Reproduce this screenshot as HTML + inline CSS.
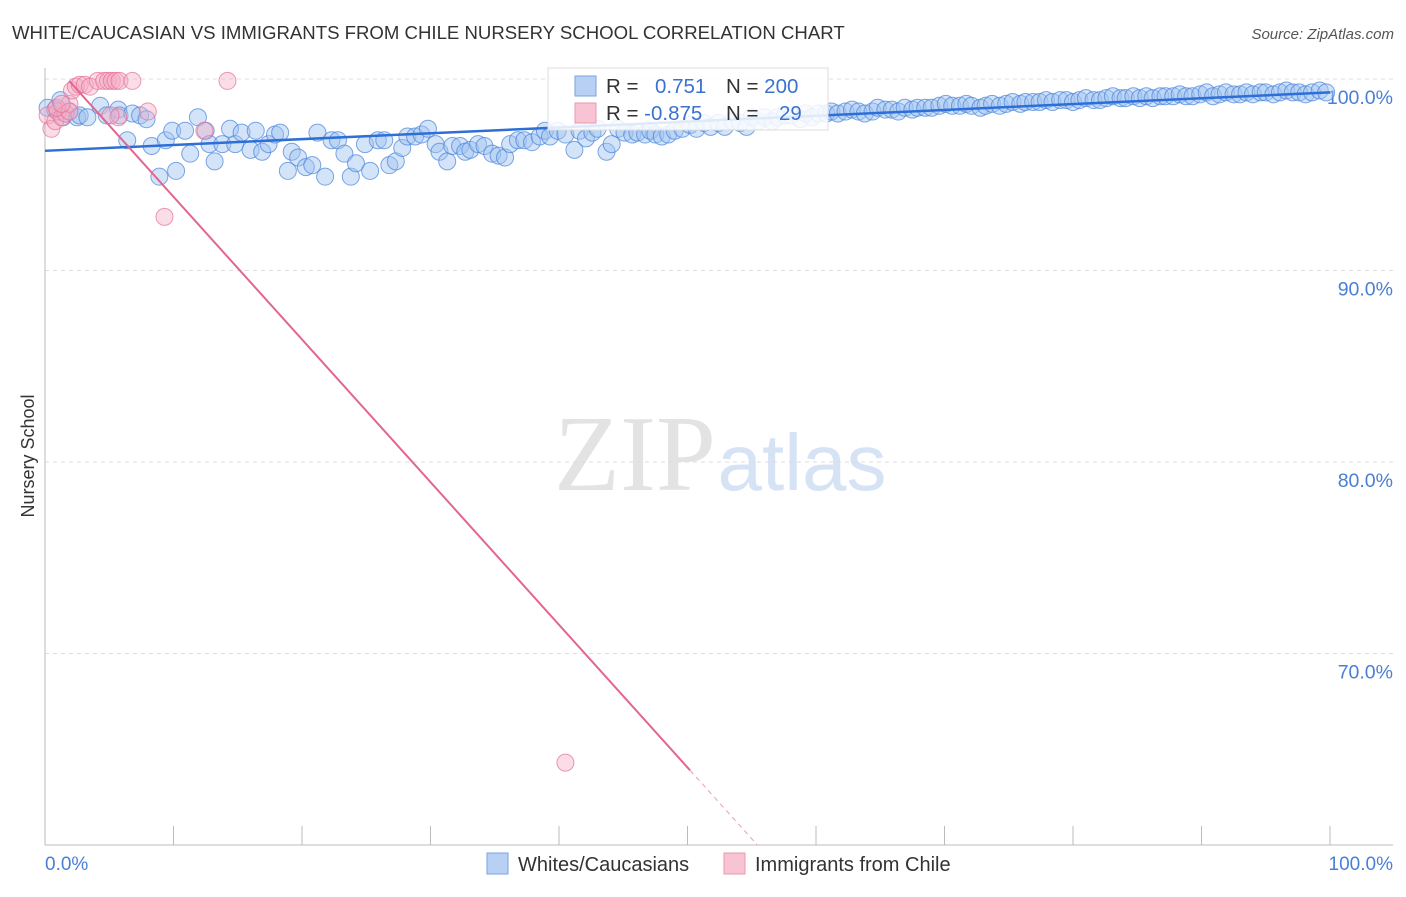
<!DOCTYPE html>
<html><head><meta charset="utf-8"><style>
body{margin:0;background:#fff;font-family:"Liberation Sans",sans-serif;}
svg text{font-family:"Liberation Sans",sans-serif;}
</style></head><body>
<svg id="chart" width="1406" height="892" xmlns="http://www.w3.org/2000/svg">
<text x="12" y="39" font-size="18.6" fill="#333">WHITE/CAUCASIAN VS IMMIGRANTS FROM CHILE NURSERY SCHOOL CORRELATION CHART</text>
<text x="1394" y="39" font-size="15" fill="#555" text-anchor="end" font-style="italic">Source: ZipAtlas.com</text>
<text x="635" y="490" font-size="108" fill="#e3e3e3" text-anchor="middle" style="font-family:'Liberation Serif',serif">ZIP</text>
<text x="802" y="490" font-size="80" fill="#d6e3f5" text-anchor="middle">atlas</text>
<g id="grid"></g>
<g id="axes"></g>
<g id="pts"></g>
<g id="lines"></g>
<text transform="translate(34,456) rotate(-90)" font-size="18" fill="#333" text-anchor="middle">Nursery School</text>
<g>
<rect x="548" y="68" width="280" height="62" fill="#fff" fill-opacity="0.85" stroke="#ddd"/>
<rect x="575" y="76" width="21" height="20" fill="#b8d0f3" stroke="#7aa3e0"/>
<text x="606" y="93" font-size="20.5" fill="#333">R = <tspan fill="#3a72d0" x="655">0.751</tspan><tspan x="726" fill="#333">N = </tspan><tspan fill="#3a72d0">200</tspan></text>
<rect x="575" y="103" width="21" height="20" fill="#f8c3d2" stroke="#e89ab0"/>
<text x="606" y="120" font-size="20.5" fill="#333">R = <tspan fill="#3a72d0">-0.875</tspan><tspan x="726" fill="#333">N = </tspan><tspan fill="#3a72d0" x="779">29</tspan></text>
</g>
<g>
<rect x="487" y="853" width="21" height="21" fill="#b8d0f3" stroke="#7aa3e0"/>
<text x="518" y="871" font-size="20" fill="#333">Whites/Caucasians</text>
<rect x="724" y="853" width="21" height="21" fill="#f8c3d2" stroke="#e89ab0"/>
<text x="755" y="871" font-size="20" fill="#333">Immigrants from Chile</text>
</g>
</svg>
<script>
const yTicks=[100,90,80,70];
const yTickLabels=["100.0%","90.0%","80.0%","70.0%"];
const xTicks=[0,10,20,30,40,50,60,70,80,90,100];
const blueX=[0.2,0.8,1.2,1.4,1.9,2.5,2.7,3.3,4.3,4.8,5.7,5.8,6.4,6.8,7.4,7.9,8.3,8.9,9.4,9.9,10.2,10.9,11.3,11.9,12.5,12.8,13.2,13.8,14.4,14.8,15.3,16.0,16.4,16.9,17.4,17.9,18.3,18.9,19.2,19.7,20.3,20.8,21.2,21.8,22.3,22.8,23.3,23.8,24.2,24.9,25.3,25.9,26.4,26.8,27.3,27.8,28.2,28.8,29.3,29.8,30.4,30.7,31.3,31.7,32.3,32.7,33.1,33.7,34.2,34.8,35.3,35.8,36.2,36.8,37.3,37.9,38.5,38.9,39.3,39.9,40.5,41.2,41.6,42.1,42.6,43.0,43.7,44.1,44.6,45.1,45.7,46.1,46.7,47.1,47.5,48.0,48.5,49.0,49.6,50.2,50.7,51.3,51.8,52.4,52.9,53.5,54.1,54.6,55.0,55.5,56.0,56.6,57.0,57.6,58.1,58.8,59.2,59.7,60.2,60.8,61.2,61.7,62.3,62.8,63.3,63.8,64.4,64.8,65.4,65.9,66.4,66.9,67.5,67.9,68.5,69.0,69.6,70.1,70.6,71.2,71.7,72.1,72.8,73.2,73.7,74.3,74.8,75.3,75.9,76.3,76.9,77.4,77.9,78.4,79.0,79.5,80.0,80.5,81.0,81.6,82.1,82.6,83.1,83.7,84.1,84.7,85.2,85.7,86.2,86.8,87.2,87.8,88.3,88.8,89.3,89.9,90.4,90.9,91.4,91.9,92.5,93.0,93.5,94.0,94.6,95.0,95.6,96.1,96.6,97.1,97.6,98.1,98.6,99.2,99.7];
const blueY=[98.5,98.4,98.9,98.0,98.3,98.0,98.1,98.0,98.6,98.1,98.4,98.1,96.8,98.2,98.1,97.9,96.5,94.9,96.8,97.3,95.2,97.3,96.1,98.0,97.3,96.6,95.7,96.6,97.4,96.6,97.2,96.3,97.3,96.2,96.6,97.1,97.2,95.2,96.2,95.9,95.4,95.5,97.2,94.9,96.8,96.8,96.1,94.9,95.6,96.6,95.2,96.8,96.8,95.5,95.7,96.4,97.0,97.0,97.1,97.4,96.6,96.2,95.7,96.5,96.5,96.2,96.3,96.6,96.5,96.1,96.0,95.9,96.6,96.8,96.8,96.7,97.0,97.3,97.0,97.3,97.1,96.3,97.3,96.9,97.2,97.4,96.2,96.6,97.4,97.2,97.1,97.2,97.1,97.3,97.1,97.0,97.1,97.3,97.4,97.6,97.4,97.7,97.5,97.7,97.5,97.8,97.7,97.5,98.0,97.8,98.0,97.8,98.0,98.1,98.1,97.9,98.2,98.0,98.2,98.2,98.3,98.2,98.3,98.4,98.3,98.2,98.3,98.5,98.4,98.4,98.3,98.5,98.4,98.5,98.5,98.5,98.6,98.7,98.6,98.6,98.7,98.6,98.5,98.6,98.7,98.6,98.7,98.8,98.7,98.8,98.8,98.8,98.9,98.8,98.9,98.9,98.8,98.9,99.0,98.9,98.9,99.0,99.1,99.0,99.0,99.1,99.0,99.1,99.0,99.1,99.1,99.1,99.2,99.1,99.1,99.2,99.3,99.1,99.2,99.3,99.2,99.2,99.3,99.2,99.3,99.3,99.2,99.3,99.4,99.3,99.3,99.2,99.3,99.4,99.3,99.2];
const pinkX=[0.2,0.5,0.8,1.0,1.3,1.6,1.9,2.1,2.4,2.7,3.1,3.5,4.1,4.6,4.9,5.2,5.5,5.8,6.8,14.2,8.0,5.7,0.9,1.9,5.1,9.3,12.4,40.5,1.3];
const pinkY=[98.1,97.4,97.8,98.3,98.0,98.2,98.7,99.4,99.6,99.7,99.7,99.6,99.9,99.9,99.9,99.9,99.9,99.9,99.9,99.9,98.3,98.0,98.5,98.3,98.1,92.8,97.3,64.3,98.7];
const blueTrend=[96.25,99.3];   // value at x=0, x=100
const pinkTrend=[101.3,-0.745]; // intercept, slope
const pinkSolidEnd=50.2;

const X=v=>45+v*12.85;
const Y=v=>79+(100-v)*19.15;
const NS='http://www.w3.org/2000/svg';
function mk(tag,attrs,parent){const e=document.createElementNS(NS,tag);for(const k in attrs)e.setAttribute(k,attrs[k]);parent.appendChild(e);return e;}
const grid=document.getElementById('grid'),axes=document.getElementById('axes'),pts=document.getElementById('pts'),lines=document.getElementById('lines');
yTicks.forEach((t,i)=>{
  const l=mk('line',{x1:45,x2:1393,y1:Y(t),y2:Y(t),stroke:'#ddd','stroke-dasharray':'4,4'},grid);
  
  
  const tx=mk('text',{x:1393,y:Y(t)+25,'font-size':19.5,fill:'#4a7fd4','text-anchor':'end'},axes);
  tx.textContent=yTickLabels[i];
  
  
});
const ya=mk('line',{x1:45,x2:45,y1:68,y2:845,stroke:'#bbb'},axes);


const xa=mk('line',{x1:45,x2:1393,y1:845,y2:845,stroke:'#bbb'},axes);


xTicks.forEach(t=>{
  const l=mk('line',{x1:X(t),x2:X(t),y1:826,y2:845,stroke:'#bbb'},axes);
  
  
});
const x0=mk('text',{x:45,y:870,'font-size':19,fill:'#4a7fd4'},axes);x0.textContent='0.0%';


const x1=mk('text',{x:1393,y:870,'font-size':19,fill:'#4a7fd4','text-anchor':'end'},axes);x1.textContent='100.0%';


blueX.forEach((v,i)=>{
  const c=mk('circle',{cx:X(v),cy:Y(blueY[i]),r:8.5,fill:'rgba(160,195,240,0.45)',stroke:'rgba(70,130,220,0.7)','stroke-width':1},pts);
  
  
});
pinkX.forEach((v,i)=>{
  const c=mk('circle',{cx:X(v),cy:Y(pinkY[i]),r:8.5,fill:'rgba(245,170,195,0.4)',stroke:'rgba(230,110,150,0.7)','stroke-width':1},pts);
  
  
});
const bl=mk('line',{x1:X(0),y1:Y(blueTrend[0]),x2:X(100),y2:Y(blueTrend[1]),stroke:'#2d6fd6','stroke-width':2.5},lines);


const pf=x=>pinkTrend[0]+pinkTrend[1]*x;
const xs=1.9, xEnd=(60-pinkTrend[0])/pinkTrend[1];
const pl=mk('line',{x1:X(xs),y1:Y(pf(xs)),x2:X(pinkSolidEnd),y2:Y(pf(pinkSolidEnd)),stroke:'#e2668f','stroke-width':2},lines);


const pd=mk('line',{x1:X(pinkSolidEnd),y1:Y(pf(pinkSolidEnd)),x2:X(xEnd),y2:Y(60),stroke:'#e8a0b8','stroke-width':1,'stroke-dasharray':'5,4'},lines);


</script>
</body></html>
